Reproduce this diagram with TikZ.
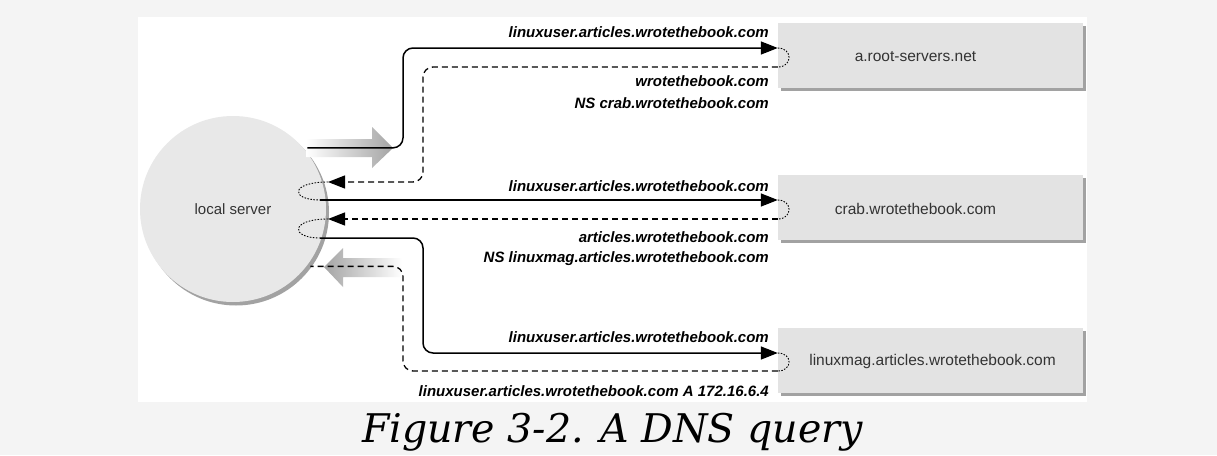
\documentclass[tikz,border=0pt]{standalone}
\usepackage{fontspec}
\setmainfont{Liberation Sans}
\newfontfamily\capfont{DejaVu Serif}
\usepackage{tikz}
\usetikzlibrary{positioning, arrows.meta, shadows}

\definecolor{outerbg}{HTML}{F4F4F4}
\definecolor{boxgray}{HTML}{E3E3E3}
\definecolor{srvgray}{HTML}{E8E8E8}
\definecolor{shadegray}{HTML}{A2A2A2}
\definecolor{arrgray}{HTML}{A4A4A4}
\definecolor{txtgray}{HTML}{333333}

\tikzset{
    server/.style={circle, fill=srvgray, minimum size=186pt, inner sep=0pt, text=txtgray,
        font=\fontsize{15}{17}\selectfont,
        drop shadow={shadow xshift=3pt, shadow yshift=-3.5pt, fill=shadegray, opacity=1}},
    hostbox/.style={rectangle, fill=boxgray, minimum width=305pt, minimum height=65pt, inner sep=0pt,
        drop shadow={shadow xshift=2.5pt, shadow yshift=-3pt, fill=shadegray, opacity=1}},
    hostname/.style={inner sep=0pt, text=txtgray, font=\fontsize{15.5}{17}\selectfont},
    msg/.style={anchor=base east, inner sep=0pt, font=\fontsize{15}{17}\selectfont\bfseries\itshape},
    query/.style={line width=1.5pt, rounded corners=10pt, -{Triangle[length=17pt, width=13pt]}},
    reply/.style={line width=1.3pt, dash pattern=on 6pt off 4pt, rounded corners=10pt},
    hop/.style={line width=0.9pt, dash pattern=on 1.5pt off 1.5pt},
}

\begin{document}
\begin{tikzpicture}[x=1pt, y=-1pt]
    \fill[outerbg] (0,0) rectangle (1217,455);
    \fill[white] (138,17) rectangle (1087,402);

    % servers
    \node[server] (local) at (233, 209) {local server};
    \node[hostbox] (root) at (930.5, 55.5) {};
    \node[hostbox] (crab) at (930.5, 207.5) {};
    \node[hostbox] (mag) at (930.5, 360.5) {};
    \node[hostname] (rootname) at ([xshift=-15pt, yshift=-1pt]root.center) {a.root-servers.net};
    \node[hostname] (crabname) at ([xshift=-15pt, yshift=-1pt]crab.center) {crab.wrotethebook.com};
    \node[hostname] (magname) at ([xshift=2pt, yshift=-1pt]mag.center) {linuxmag.articles.wrotethebook.com};

    % big gray arrows
    \shade[left color=white, right color=arrgray] (306,139) -- (372,139) -- (372,127) -- (393,148) -- (372,168) -- (372,157) -- (306,157) -- cycle;
    \shade[left color=arrgray, right color=white] (324,267) -- (343,248) -- (343,258) -- (402,258) -- (402,277) -- (343,277) -- (343,287) -- cycle;

    % points at the local server
    \coordinate (s1) at (328, 182);
    \coordinate (s2) at (320, 200);
    \coordinate (s3) at (328, 219);
    \coordinate (s4) at (320, 238);

    % query and answer from the root
    \draw[query] ([xshift=4pt]local.41) -| (403, 100) |- ([yshift=7.5pt]root.west);
    \draw[hop] ([yshift=7.5pt]root.west) .. controls +(15,0) and +(15,0) .. ([yshift=-11.5pt]root.west);
    \draw[reply, -{Triangle[length=17pt, width=13pt]}] ([yshift=-11.5pt]root.west) -| (423, 120) |- (s1);
    \draw[hop] (s1) .. controls (290,182) and (290,200) .. (s2);

    % query and answer from crab
    \draw[query] (s2) -- ([yshift=7.5pt]crab.west);
    \draw[hop] ([yshift=7.5pt]crab.west) .. controls +(15,0) and +(15,0) .. ([yshift=-11.5pt]crab.west);
    \draw[reply, -{Triangle[length=17pt, width=13pt]}] ([yshift=-11.5pt]crab.west) -- (s3);
    \draw[hop] (s3) .. controls (290,219) and (290,238) .. (s4);

    % query and answer from linuxmag
    \draw[query] (s4) -| (423, 300) |- ([yshift=7.5pt]mag.west);
    \draw[hop] ([yshift=7.5pt]mag.west) .. controls +(15,0) and +(15,0) .. ([yshift=-10.5pt]mag.west);
    \draw[reply] ([yshift=-10.5pt]mag.west) -| (403, 300) |- ([xshift=4pt]local.-38.6);

    % messages
    \node[msg] (m1) at (769, 37) {linuxuser.articles.wrotethebook.com};
    \node[msg] (m2) at (769, 86) {wrotethebook.com};
    \node[msg] (m3) at (769, 108) {NS crab.wrotethebook.com};
    \node[msg] (m4) at (769, 191) {linuxuser.articles.wrotethebook.com};
    \node[msg] (m5) at (769, 242) {articles.wrotethebook.com};
    \node[msg] (m6) at (769, 262) {NS linuxmag.articles.wrotethebook.com};
    \node[msg] (m7) at (769, 342) {linuxuser.articles.wrotethebook.com};
    \node[msg] (m8) at (769, 396) {linuxuser.articles.wrotethebook.com A 172.16.6.4};

    \node[anchor=base, inner sep=0pt, font=\capfont\itshape\fontsize{39.5}{44}\selectfont] (caption) at (612.5, 442) {Figure 3-2. A DNS query};
\end{tikzpicture}
\end{document}
